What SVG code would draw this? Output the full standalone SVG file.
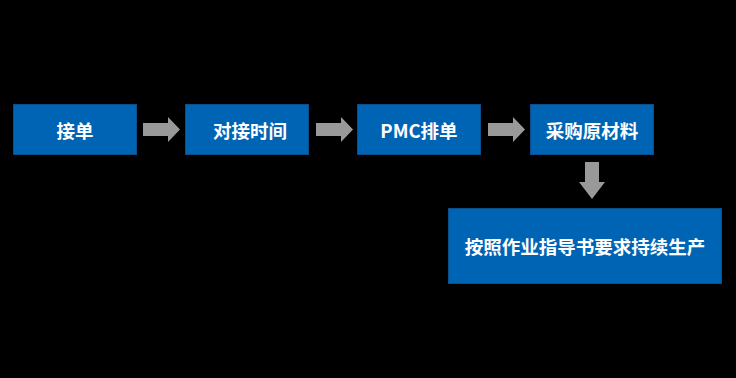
<svg xmlns="http://www.w3.org/2000/svg" width="736" height="378" viewBox="0 0 736 378">
<style>
.box{fill:#0064b4;stroke:#0a4f8c;stroke-width:1}
.t{fill:#fff;font-family:"Noto Sans CJK SC","Noto Sans",sans-serif;font-weight:bold;font-size:18.5px;text-anchor:middle;dominant-baseline:central}
.arr{fill:#999999}
</style>
<rect width="736" height="378" fill="#000"/>
<g id="n1"><rect class="box" x="13.5" y="104.5" width="123" height="50"/><text class="t" x="75" y="129.5">接单</text></g>
<g id="n2"><rect class="box" x="185.5" y="104.5" width="123" height="50"/><text class="t" x="250" y="129.5">对接时间</text></g>
<g id="n3"><rect class="box" x="357.5" y="104.5" width="123" height="50"/><text class="t" x="419" y="129.5">PMC排单</text></g>
<g id="n4"><rect class="box" x="530.5" y="104.5" width="123" height="50"/><text class="t" x="592" y="129.5">采购原材料</text></g>
<g id="n5"><rect class="box" x="448.5" y="208.5" width="273" height="75"/><text class="t" x="585" y="246">按照作业指导书要求持续生产</text></g>
<g id="connectors">
<polygon class="arr" points="143,123 168,123 168,117 180,129.5 168,142 168,136 143,136"/>
<polygon class="arr" points="316,123 341,123 341,117 353,129.5 341,142 341,136 316,136"/>
<polygon class="arr" points="488,123 513,123 513,117 525,129.5 513,142 513,136 488,136"/>
<polygon class="arr" points="585,162 599,162 599,182 605,182 592,199 579,182 585,182"/>
</g>
</svg>
